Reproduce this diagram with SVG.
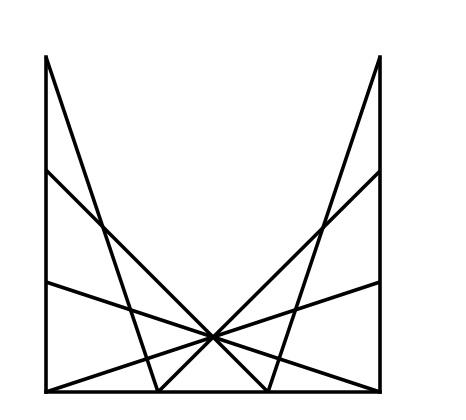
<svg xmlns="http://www.w3.org/2000/svg" width="466" height="420" viewBox="0 0 466 420">
<style>
line{stroke:#000;stroke-width:3.6;stroke-linecap:butt}
#frame line{stroke-linecap:square}
</style>
<rect width="466" height="420" fill="#fff"/>
<g id="frame">
<line x1="46" y1="57" x2="46" y2="392"/>
<line x1="380" y1="57" x2="380" y2="392"/>
<line x1="46" y1="392" x2="380" y2="392"/>
</g>
<g id="connectors">
<line x1="46" y1="57" x2="158" y2="392"/>
<line x1="380" y1="57" x2="268" y2="392"/>
<line x1="46" y1="170" x2="268" y2="392"/>
<line x1="380" y1="171" x2="158" y2="392"/>
<line x1="46" y1="282" x2="380" y2="392"/>
<line x1="380" y1="282" x2="46" y2="392"/>
</g>
</svg>
